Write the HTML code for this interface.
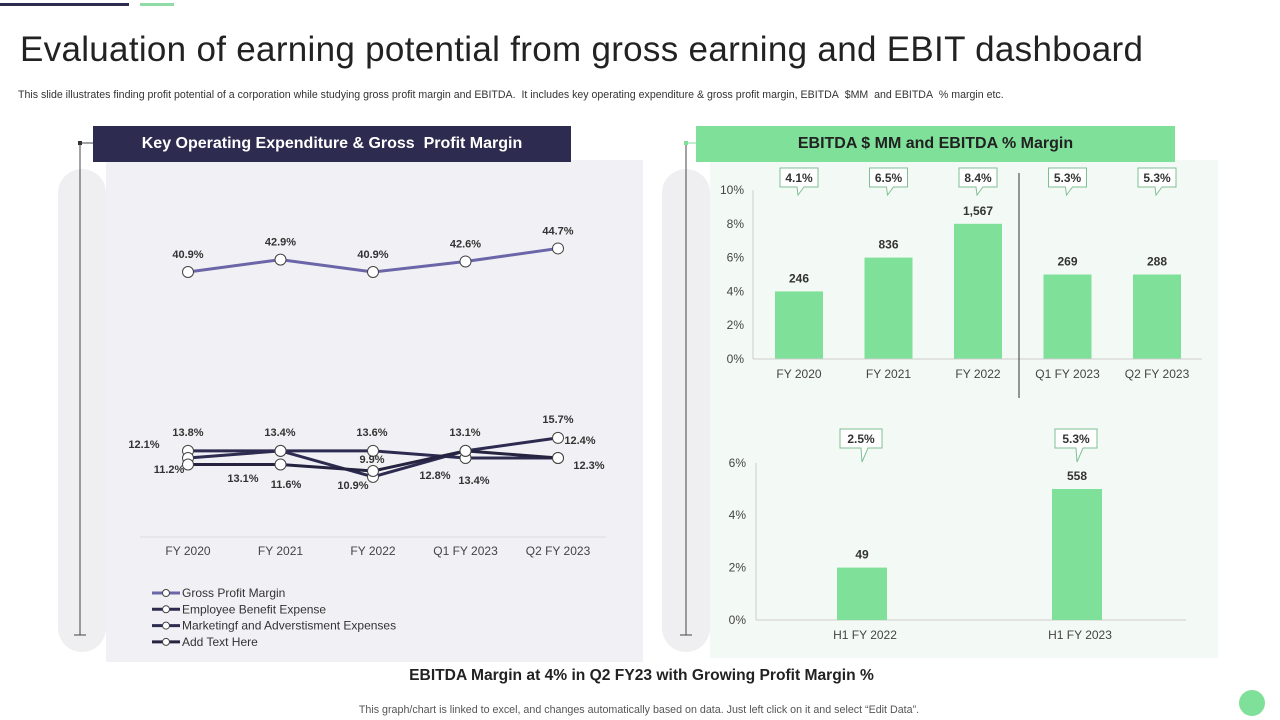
<!DOCTYPE html>
<html><head><meta charset="utf-8"><style>
body{margin:0;width:1280px;height:720px;background:#fff;font-family:"Liberation Sans",sans-serif;position:relative;overflow:hidden}
.a{position:absolute}
</style></head><body>
<div class="a" style="left:0;top:3px;width:129px;height:3px;background:#2d2b4f"></div>
<div class="a" style="left:140px;top:3px;width:34px;height:3px;background:#8fdca8"></div>
<div class="a" style="left:20px;top:30px;font-size:35px;color:#222;letter-spacing:0.3px">Evaluation of earning potential from gross earning and EBIT dashboard</div>
<div class="a" style="left:18px;top:89px;font-size:10.6px;color:#333">This slide illustrates finding profit potential of a corporation while studying gross profit margin and EBITDA.&nbsp; It includes key operating expenditure &amp; gross profit margin, EBITDA&nbsp; $MM&nbsp; and EBITDA&nbsp; % margin etc.</div>

<div class="a" style="left:58px;top:169px;width:48px;height:483px;background:#efeff2;border-radius:24px"></div>
<div class="a" style="left:106px;top:160px;width:537px;height:502px;background:#f1f1f5"></div>
<div class="a" style="left:662px;top:169px;width:48px;height:483px;background:#efeff2;border-radius:24px"></div>
<div class="a" style="left:710px;top:160px;width:508px;height:498px;background:#f3faf5"></div>
<div class="a" style="left:93px;top:126px;width:478px;height:36px;background:#2d2b4f;color:#fff;font-weight:bold;font-size:16px;line-height:36px;text-align:center">Key Operating Expenditure &amp; Gross&nbsp; Profit Margin</div>
<div class="a" style="left:696px;top:126px;width:479px;height:36px;background:#7fe09a;color:#222;font-weight:bold;font-size:16px;line-height:36px;text-align:center">EBITDA $ MM and EBITDA % Margin</div>
<div class="a" style="left:0;width:1283px;top:667px;text-align:center;font-size:15.6px;font-weight:bold;color:#222">EBITDA Margin at 4% in Q2 FY23 with Growing Profit Margin %</div>
<div class="a" style="left:0;width:1278px;top:704px;text-align:center;font-size:10.7px;color:#555">This graph/chart is linked to excel, and changes automatically based on data. Just left click on it and select “Edit Data”.</div>
<div class="a" style="left:1239px;top:690px;width:26px;height:26px;border-radius:50%;background:#7fe09a"></div>

<svg id="s" class="a" style="left:0;top:0" width="1280" height="720" font-family="Liberation Sans, sans-serif">
<line x1="80" y1="143" x2="80" y2="635" stroke="#444" stroke-width="1"/>
<line x1="74" y1="635" x2="86" y2="635" stroke="#444"/>
<rect x="78" y="141" width="4" height="4" fill="#333"/><line x1="82" y1="143" x2="93" y2="143" stroke="#444"/>
<line x1="686" y1="143" x2="686" y2="635" stroke="#444"/>
<line x1="680" y1="635" x2="692" y2="635" stroke="#444"/>
<rect x="684" y="141" width="4" height="4" fill="#7fe09a"/><line x1="688" y1="143" x2="696" y2="143" stroke="#7fe09a"/>
<g id="lc"></g><g id="bc1"></g><g id="bc2"></g>
</svg>
<script>
const cats=["FY 2020","FY 2021","FY 2022","Q1 FY 2023","Q2 FY 2023"];
const gross=[40.9,42.9,40.9,42.6,44.7];
const empPlot=[13.5,13.5,13.5,12.4,12.4];
const mktPlot=[12.4,13.5,9.5,13.5,15.5];
const addPlot=[11.4,11.4,10.4,13.5,12.4];
const empLabels=["13.8%","13.4%","13.6%","13.1%","12.3%"];
const mktLabels=["12.1%","13.1%","9.9%","13.4%","15.7%"];
const addLabels=["11.2%","11.6%","10.9%","12.8%","12.4%"];
const barCats=["FY 2020","FY 2021","FY 2022","Q1 FY 2023","Q2 FY 2023"];
const barPct=[4,6,8,5,5];
const barVal=["246","836","1,567","269","288"];
const barCall=["4.1%","6.5%","8.4%","5.3%","5.3%"];
const yTicks1=[0,2,4,6,8,10];
const bar2Cats=["H1 FY 2022","H1 FY 2023"];
const bar2Pct=[2,5];
const bar2Val=["49","558"];
const bar2Call=["2.5%","5.3%"];
const yTicks2=[0,2,4,6];
const NS="http://www.w3.org/2000/svg";
function mk(p,t,a,txt){const e=document.createElementNS(NS,t);for(const k in a)e.setAttribute(k,a[k]);if(txt!==undefined)e.textContent=txt;p.appendChild(e);return e;}
// line chart
const lc=document.getElementById('lc');
const lx=i=>188+i*92.5;
const gy=v=>272-(v-40.9)*6.2;
const ey=v=>458-(v-12.4)*6.5;
function series(vals,fy,color,name){
  const pl=mk(lc,'polyline',{points:vals.map((v,i)=>lx(i)+','+fy(v)).join(' '),fill:'none',stroke:color,'stroke-width':3});
  
  
  vals.forEach((v,i)=>{const c=mk(lc,'circle',{cx:lx(i),cy:fy(v),r:5.5,fill:'#fff',stroke:'#444','stroke-width':1});
    
    });
}
series(gross,gy,'#6b66a8','gross-profit-margin');
series(empPlot,ey,'#2d2b4f','employee-benefit');
series(mktPlot,ey,'#2d2b4f','marketing-expense');
series(addPlot,ey,'#25233f','add-text');
gross.forEach((v,i)=>{const t=mk(lc,'text',{x:lx(i),y:gy(v)-14,'font-size':11,'font-weight':'bold','text-anchor':'middle',fill:'#333'},v.toFixed(1)+'%');
  
  });
const lblPos=[
 [[188,436],[280,436],[372,436],[465,436],[589,469]],
 [[144,448],[243,482],[372,463],[474,484],[558,423]],
 [[169,473],[286,488],[353,489],[435,479],[580,444]]];
[empLabels,mktLabels,addLabels].forEach((arr,s)=>arr.forEach((l,i)=>{const t=mk(lc,'text',{x:lblPos[s][i][0],y:lblPos[s][i][1],'font-size':11,'font-weight':'bold','text-anchor':'middle',fill:'#333'},l);
  
  }));
mk(lc,'line',{x1:140,y1:537,x2:606,y2:537,stroke:'#ddd'});
cats.forEach((c,i)=>{const t=mk(lc,'text',{x:lx(i),y:555,'font-size':12,'text-anchor':'middle',fill:'#444'},c);
  
  });
const legs=[["Gross Profit Margin","#6b66a8"],["Employee Benefit Expense","#2d2b4f"],["Marketingf and Adverstisment Expenses","#2d2b4f"],["Add Text Here","#25233f"]];
legs.forEach((l,i)=>{const y=593+i*16.3;
  const g=mk(lc,'g',{});
  
  
  mk(g,'line',{x1:152,y1:y,x2:180,y2:y,stroke:l[1],'stroke-width':3});
  mk(g,'circle',{cx:166,cy:y,r:3.5,fill:'#fff',stroke:'#444'});
  mk(g,'text',{x:182,y:y+4,'font-size':12,fill:'#333'},l[0]);});
// bar chart 1
const b1=document.getElementById('bc1');
const y1=v=>359-v*16.9;
const bx=i=>799+i*89.5;
yTicks1.forEach(t=>{const e=mk(b1,'text',{x:744,y:y1(t)+4,'font-size':12,'text-anchor':'end',fill:'#444'},t+'%');
  
  });
mk(b1,'line',{x1:753,y1:190,x2:753,y2:359,stroke:'#ccc'});
barPct.forEach((v,i)=>{const r=mk(b1,'rect',{x:bx(i)-24,y:y1(v),width:48,height:v*16.9,fill:'#7fe09a'});
  
  
  const t=mk(b1,'text',{x:bx(i),y:y1(v)-9,'font-size':12,'font-weight':'bold','text-anchor':'middle',fill:'#333'},barVal[i]);
  
  
  mk(b1,'text',{x:bx(i),y:378,'font-size':12,'text-anchor':'middle',fill:'#444'},barCats[i]);
  const g=mk(b1,'g',{});
  
  
  mk(g,'path',{d:`M${bx(i)-19},168 h38 v19 h-14 l-6,8 l-1,-8 h-17 z`,fill:'#fff',stroke:'#7fbf95'});
  mk(g,'text',{x:bx(i),y:182,'font-size':12,'font-weight':'bold','text-anchor':'middle',fill:'#333'},barCall[i]);});
mk(b1,'line',{x1:753,y1:359,x2:1202,y2:359,stroke:'#ccc'});
mk(b1,'line',{x1:1019,y1:173,x2:1019,y2:398,stroke:'#333'});
// bar chart 2
const b2=document.getElementById('bc2');
const y2=v=>620-v*26.2;
const bx2=i=>862+i*215;
yTicks2.forEach(t=>{const e=mk(b2,'text',{x:746,y:y2(t)+4,'font-size':12,'text-anchor':'end',fill:'#444'},t+'%');
  
  });
mk(b2,'line',{x1:756,y1:463,x2:756,y2:620,stroke:'#ccc'});
mk(b2,'line',{x1:756,y1:620,x2:1186,y2:620,stroke:'#ccc'});
bar2Pct.forEach((v,i)=>{const r=mk(b2,'rect',{x:bx2(i)-25,y:y2(v),width:50,height:v*26.2,fill:'#7fe09a'});
  
  
  mk(b2,'text',{x:bx2(i),y:y2(v)-9,'font-size':12,'font-weight':'bold','text-anchor':'middle',fill:'#333'},bar2Val[i]);
  mk(b2,'text',{x:bx2(i)+3,y:639,'font-size':12,'text-anchor':'middle',fill:'#444'},bar2Cats[i]);
  const g=mk(b2,'g',{});
  
  
  mk(g,'path',{d:`M${bx2(i)-22},429 h42 v19 h-14 l-6,14 l-1,-14 h-21 z`,fill:'#fff',stroke:'#7fbf95'});
  mk(g,'text',{x:bx2(i)-1,y:443,'font-size':12,'font-weight':'bold','text-anchor':'middle',fill:'#333'},bar2Call[i]);});
</script>
</body></html>
